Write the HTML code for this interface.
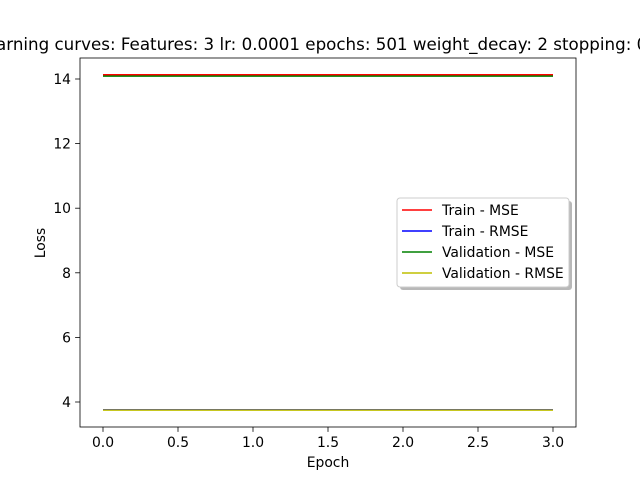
<!DOCTYPE html>
<html><head><meta charset="utf-8"><style>
body{margin:0;background:#fff;}
svg{font-family:"DejaVu Sans","Liberation Sans",sans-serif;}
</style></head><body>
<svg id="c" width="640" height="480">
<rect width="640" height="480" fill="#fff"/>
<g id="plot"></g>
</svg>
<script>
const epochs=[0,1,2,3];
const trainMSE=[14.13,14.13,14.13,14.13];
const trainRMSE=[3.76,3.76,3.76,3.76];
const valMSE=[14.09,14.09,14.09,14.09];
const valRMSE=[3.75,3.75,3.75,3.75];
const xTicks=[0,0.5,1,1.5,2,2.5,3];
const yTicks=[4,6,8,10,12,14];
const L=80,R=576,T=58,B=427;
const x=v=>103+v*150;
const y=v=>402-(v-4)*32.3;
const NS="http://www.w3.org/2000/svg";
const g=document.getElementById('plot');
function mk(t,a,txt){const e=document.createElementNS(NS,t);for(const k in a)e.setAttribute(k,a[k]);if(txt!==undefined)e.textContent=txt;g.appendChild(e);return e;}
const series=[[trainMSE,'#ff0000','train-mse-line'],[trainRMSE,'#0000ff','train-rmse-line'],[valMSE,'#008000','validation-mse-line'],[valRMSE,'#bfbf00','validation-rmse-line']];
series.forEach(s=>{const e=mk('polyline',{points:epochs.map((v,i)=>x(v)+','+y(s[0][i])).join(' '),fill:'none',stroke:s[1],'stroke-width':1.5});

});
const ax=mk('rect',{x:L,y:T,width:R-L,height:B-T,fill:'none',stroke:'#000','stroke-width':0.8});


xTicks.forEach(t=>{mk('line',{x1:x(t),x2:x(t),y1:B,y2:B+4.9,stroke:'#000','stroke-width':0.8});
const e=mk('text',{x:x(t),y:B+20,'font-size':13.9,'text-anchor':'middle'},t.toFixed(1));

});
yTicks.forEach(t=>{mk('line',{x1:L-4.9,x2:L,y1:y(t),y2:y(t),stroke:'#000','stroke-width':0.8});
const e=mk('text',{x:L-9,y:y(t)+5,'font-size':13.9,'text-anchor':'end'},t);

});
let e=mk('text',{x:328,y:467,'font-size':13.9,'text-anchor':'middle'},'Epoch');


e=mk('text',{x:45,y:243,'font-size':13.9,'text-anchor':'middle',transform:'rotate(-90 45 243)'},'Loss');


e=mk('text',{x:312,y:50,'font-size':16.7,'text-anchor':'middle'},'Learning curves: Features: 3 lr: 0.0001 epochs: 501 weight_decay: 2 stopping: 0');


mk('rect',{x:400,y:201,width:172,height:89,fill:'#888',opacity:0.6,rx:3});
e=mk('rect',{x:397,y:198,width:172,height:89,fill:'#fff',stroke:'#ccc','stroke-width':1,rx:3});


const labels=['Train - MSE','Train - RMSE','Validation - MSE','Validation - RMSE'];
labels.forEach((l,i)=>{const yy=210+i*21;mk('line',{x1:402,x2:432,y1:yy,y2:yy,stroke:series[i][1],'stroke-width':1.5});
const t=mk('text',{x:442,y:yy+5,'font-size':13.9},l);

});
</script>
</body></html>
